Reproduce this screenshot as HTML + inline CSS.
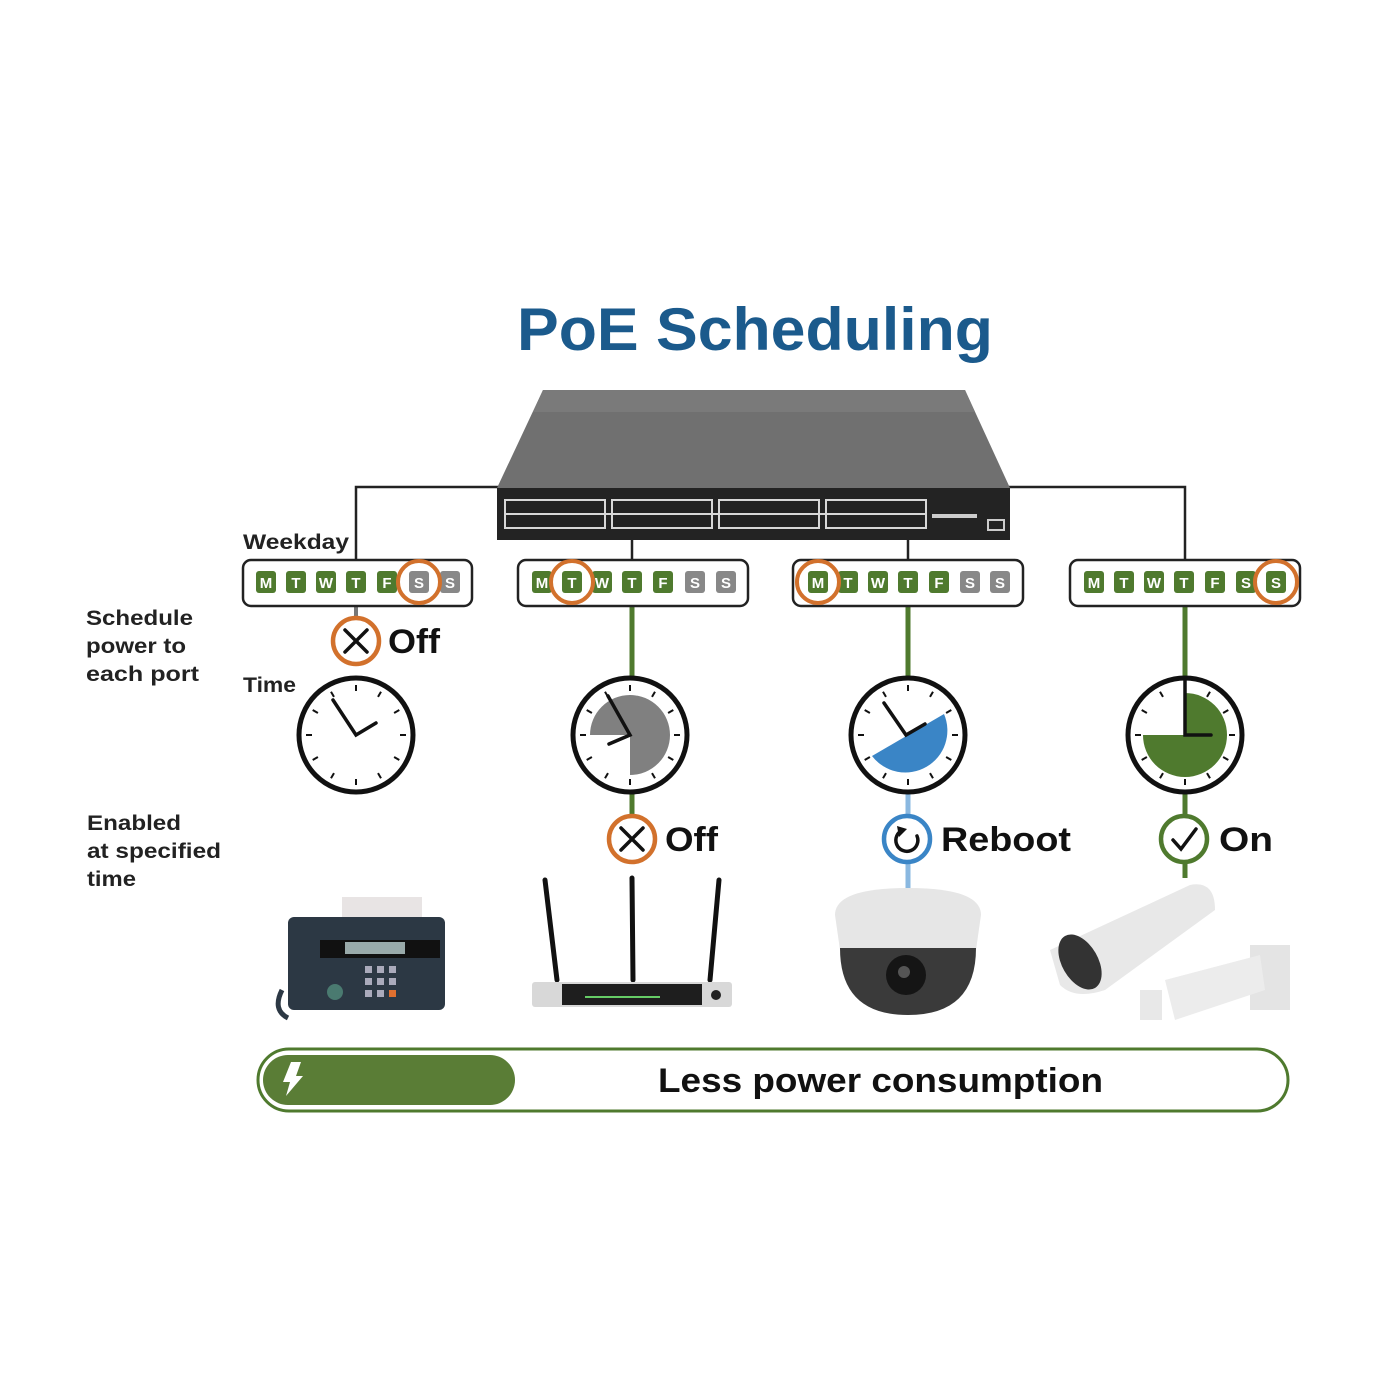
<!DOCTYPE html>
<html><head><meta charset="utf-8"><style>
html,body{margin:0;padding:0;background:#fff;}
svg{display:block;}
text{font-family:"Liberation Sans",sans-serif;}
</style></head><body>
<svg width="1400" height="1400" viewBox="0 0 1400 1400" xmlns="http://www.w3.org/2000/svg">
<defs>
  <g id="ticks" stroke="#111" stroke-width="2">
    <line x1="0" y1="-50" x2="0" y2="-44"/><line x1="0" y1="50" x2="0" y2="44"/>
    <line x1="-50" y1="0" x2="-44" y2="0"/><line x1="50" y1="0" x2="44" y2="0"/>
    <g transform="rotate(30)"><line x1="0" y1="-50" x2="0" y2="-44"/><line x1="0" y1="50" x2="0" y2="44"/><line x1="-50" y1="0" x2="-44" y2="0"/><line x1="50" y1="0" x2="44" y2="0"/></g>
    <g transform="rotate(60)"><line x1="0" y1="-50" x2="0" y2="-44"/><line x1="0" y1="50" x2="0" y2="44"/><line x1="-50" y1="0" x2="-44" y2="0"/><line x1="50" y1="0" x2="44" y2="0"/></g>
  </g>
</defs>

<text x="755" y="350" text-anchor="middle" font-size="60" font-weight="bold" fill="#1b5a8c" textLength="476" lengthAdjust="spacingAndGlyphs">PoE Scheduling</text>

<g stroke="#222" stroke-width="2.5" fill="none">
  <polyline points="356,560 356,487 500,487"/>
  <polyline points="1008,487 1185,487 1185,560"/>
  <line x1="632" y1="538" x2="632" y2="560"/>
  <line x1="908" y1="538" x2="908" y2="560"/>
</g>
<line x1="356" y1="606" x2="356" y2="620" stroke="#777" stroke-width="4"/>
<g stroke="#4f7a2e" stroke-width="5">
  <line x1="632" y1="606" x2="632" y2="680"/>
  <line x1="632" y1="792" x2="632" y2="818"/>
  <line x1="908" y1="606" x2="908" y2="680"/>
  <line x1="1185" y1="606" x2="1185" y2="680"/>
  <line x1="1185" y1="792" x2="1185" y2="818"/>
  <line x1="1185" y1="860" x2="1185" y2="878"/>
</g>
<g stroke="#8ab8e0" stroke-width="5">
  <line x1="908" y1="792" x2="908" y2="818"/>
  <line x1="908" y1="860" x2="908" y2="888"/>
</g>

<!-- switch -->
<polygon points="543,390 965,390 1010,488 497,488" fill="#707070"/>
<polygon points="543,390 965,390 975,412 533,412" fill="#7a7a7a"/>
<rect x="497" y="488" width="513" height="52" fill="#232323"/>
<g fill="none" stroke="#d8d8d8" stroke-width="2">
  <rect x="505" y="500" width="100" height="28"/>
  <rect x="612" y="500" width="100" height="28"/>
  <rect x="719" y="500" width="100" height="28"/>
  <rect x="826" y="500" width="100" height="28"/>
  <line x1="505" y1="514" x2="926" y2="514"/>
</g>
<rect x="932" y="514" width="45" height="4" fill="#ccc"/>
<rect x="988" y="520" width="16" height="10" fill="none" stroke="#ccc" stroke-width="2"/>

<g fill="#fff" stroke="#222" stroke-width="2.5">
  <rect x="243" y="560" width="229" height="46" rx="8"/>
  <rect x="518" y="560" width="230" height="46" rx="8"/>
  <rect x="793" y="560" width="230" height="46" rx="8"/>
  <rect x="1070" y="560" width="230" height="46" rx="8"/>
</g>
<g font-size="15" font-weight="bold" fill="#fff" text-anchor="middle">
<g transform="translate(266,582)">
 <rect x="-10" y="-11" width="20" height="22" rx="3" fill="#4f7a2e"/><text y="6">M</text>
 <g transform="translate(30,0)"><rect x="-10" y="-11" width="20" height="22" rx="3" fill="#4f7a2e"/><text y="6">T</text></g>
 <g transform="translate(60,0)"><rect x="-10" y="-11" width="20" height="22" rx="3" fill="#4f7a2e"/><text y="6">W</text></g>
 <g transform="translate(90,0)"><rect x="-10" y="-11" width="20" height="22" rx="3" fill="#4f7a2e"/><text y="6">T</text></g>
 <g transform="translate(121,0)"><rect x="-10" y="-11" width="20" height="22" rx="3" fill="#4f7a2e"/><text y="6">F</text></g>
 <g transform="translate(153,0)"><rect x="-10" y="-11" width="20" height="22" rx="3" fill="#888"/><text y="6">S</text></g>
 <g transform="translate(184,0)"><rect x="-10" y="-11" width="20" height="22" rx="3" fill="#888"/><text y="6">S</text></g>
</g>
<g transform="translate(542,582)">
 <rect x="-10" y="-11" width="20" height="22" rx="3" fill="#4f7a2e"/><text y="6">M</text>
 <g transform="translate(30,0)"><rect x="-10" y="-11" width="20" height="22" rx="3" fill="#4f7a2e"/><text y="6">T</text></g>
 <g transform="translate(60,0)"><rect x="-10" y="-11" width="20" height="22" rx="3" fill="#4f7a2e"/><text y="6">W</text></g>
 <g transform="translate(90,0)"><rect x="-10" y="-11" width="20" height="22" rx="3" fill="#4f7a2e"/><text y="6">T</text></g>
 <g transform="translate(121,0)"><rect x="-10" y="-11" width="20" height="22" rx="3" fill="#4f7a2e"/><text y="6">F</text></g>
 <g transform="translate(153,0)"><rect x="-10" y="-11" width="20" height="22" rx="3" fill="#888"/><text y="6">S</text></g>
 <g transform="translate(184,0)"><rect x="-10" y="-11" width="20" height="22" rx="3" fill="#888"/><text y="6">S</text></g>
</g>
<g transform="translate(818,582)">
 <rect x="-10" y="-11" width="20" height="22" rx="3" fill="#4f7a2e"/><text y="6">M</text>
 <g transform="translate(30,0)"><rect x="-10" y="-11" width="20" height="22" rx="3" fill="#4f7a2e"/><text y="6">T</text></g>
 <g transform="translate(60,0)"><rect x="-10" y="-11" width="20" height="22" rx="3" fill="#4f7a2e"/><text y="6">W</text></g>
 <g transform="translate(90,0)"><rect x="-10" y="-11" width="20" height="22" rx="3" fill="#4f7a2e"/><text y="6">T</text></g>
 <g transform="translate(121,0)"><rect x="-10" y="-11" width="20" height="22" rx="3" fill="#4f7a2e"/><text y="6">F</text></g>
 <g transform="translate(152,0)"><rect x="-10" y="-11" width="20" height="22" rx="3" fill="#888"/><text y="6">S</text></g>
 <g transform="translate(182,0)"><rect x="-10" y="-11" width="20" height="22" rx="3" fill="#888"/><text y="6">S</text></g>
</g>
<g transform="translate(1094,582)">
 <rect x="-10" y="-11" width="20" height="22" rx="3" fill="#4f7a2e"/><text y="6">M</text>
 <g transform="translate(30,0)"><rect x="-10" y="-11" width="20" height="22" rx="3" fill="#4f7a2e"/><text y="6">T</text></g>
 <g transform="translate(60,0)"><rect x="-10" y="-11" width="20" height="22" rx="3" fill="#4f7a2e"/><text y="6">W</text></g>
 <g transform="translate(90,0)"><rect x="-10" y="-11" width="20" height="22" rx="3" fill="#4f7a2e"/><text y="6">T</text></g>
 <g transform="translate(121,0)"><rect x="-10" y="-11" width="20" height="22" rx="3" fill="#4f7a2e"/><text y="6">F</text></g>
 <g transform="translate(152,0)"><rect x="-10" y="-11" width="20" height="22" rx="3" fill="#4f7a2e"/><text y="6">S</text></g>
 <g transform="translate(182,0)"><rect x="-10" y="-11" width="20" height="22" rx="3" fill="#4f7a2e"/><text y="6">S</text></g>
</g>
</g>
<g fill="none" stroke="#d2712c" stroke-width="4">
  <circle cx="419" cy="582" r="21"/>
  <circle cx="572" cy="582" r="21"/>
  <circle cx="818" cy="582" r="21"/>
  <circle cx="1276" cy="582" r="21"/>
</g>

<g font-size="21" font-weight="bold" fill="#222">
  <text x="243" y="549" textLength="106" lengthAdjust="spacingAndGlyphs">Weekday</text>
  <text x="243" y="692" textLength="53" lengthAdjust="spacingAndGlyphs">Time</text>
  <text x="86" y="625" textLength="107" lengthAdjust="spacingAndGlyphs">Schedule</text>
  <text x="86" y="653" textLength="100" lengthAdjust="spacingAndGlyphs">power to</text>
  <text x="86" y="681" textLength="113" lengthAdjust="spacingAndGlyphs">each port</text>
  <text x="87" y="830" textLength="94" lengthAdjust="spacingAndGlyphs">Enabled</text>
  <text x="87" y="858" textLength="134" lengthAdjust="spacingAndGlyphs">at specified</text>
  <text x="87" y="886" textLength="49" lengthAdjust="spacingAndGlyphs">time</text>
</g>

<g fill="#fff" stroke-width="4.5">
  <circle cx="356" cy="641" r="23" stroke="#d2712c"/>
  <circle cx="632" cy="839" r="23" stroke="#d2712c"/>
  <circle cx="907" cy="839" r="23" stroke="#3a85c6"/>
  <circle cx="1184" cy="839" r="23" stroke="#4f7a2e"/>
</g>
<g stroke="#111" stroke-width="3.5" fill="none" stroke-linecap="round">
  <path d="M345,630 L367,652 M367,630 L345,652"/>
  <path d="M621,828 L643,850 M643,828 L621,850"/>
  <path d="M1173,840 L1181,849 L1196,829"/>
  <path d="M917,836 A11,11 0 1 1 903,830"/>
</g>
<polygon points="897,826 907,829 899,837" fill="#111"/>
<g font-size="34" font-weight="bold" fill="#111">
  <text x="388" y="653" textLength="52" lengthAdjust="spacingAndGlyphs">Off</text>
  <text x="665" y="851" textLength="53" lengthAdjust="spacingAndGlyphs">Off</text>
  <text x="941" y="851" textLength="130" lengthAdjust="spacingAndGlyphs">Reboot</text>
  <text x="1219" y="851" textLength="54" lengthAdjust="spacingAndGlyphs">On</text>
</g>

<path d="M630,735 L590,735 A40,40 0 1 1 630,775 Z" fill="#808080"/>
<path d="M908,735 L944,714 A42,42 0 0 1 872,756 Z" fill="#3a85c6"/>
<path d="M1185,735 L1185,693 A42,42 0 1 1 1143,735 Z" fill="#4f7a2e"/>
<g fill="none" stroke="#111" stroke-width="5">
  <circle cx="356" cy="735" r="57"/>
  <circle cx="630" cy="735" r="57"/>
  <circle cx="908" cy="735" r="57"/>
  <circle cx="1185" cy="735" r="57"/>
</g>
<use href="#ticks" transform="translate(356,735)"/>
<use href="#ticks" transform="translate(630,735)"/>
<use href="#ticks" transform="translate(908,735)"/>
<use href="#ticks" transform="translate(1185,735)"/>
<g stroke="#111" stroke-width="3.5" stroke-linecap="round" fill="none">
  <polyline points="333,700 356,735 376,723"/>
  <polyline points="608,696 630,735 609,744"/>
  <polyline points="884,703 906,735 925,724"/>
  <polyline points="1185,680 1185,735 1211,735"/>
</g>

<!-- fax -->
<rect x="342" y="897" width="80" height="30" fill="#e8e4e4"/>
<rect x="288" y="917" width="157" height="93" rx="6" fill="#2c3844"/>
<rect x="320" y="940" width="120" height="18" fill="#111"/>
<rect x="345" y="942" width="60" height="12" fill="#9aa"/>
<g fill="#aab">
 <rect x="365" y="966" width="7" height="7"/><rect x="377" y="966" width="7" height="7"/><rect x="389" y="966" width="7" height="7"/>
 <rect x="365" y="978" width="7" height="7"/><rect x="377" y="978" width="7" height="7"/><rect x="389" y="978" width="7" height="7"/>
 <rect x="365" y="990" width="7" height="7"/><rect x="377" y="990" width="7" height="7"/>
</g>
<rect x="389" y="990" width="7" height="7" fill="#e07030"/>
<circle cx="335" cy="992" r="8" fill="#4a7a70"/>
<path d="M282,990 Q272,1010 288,1018" stroke="#2c3844" stroke-width="5" fill="none"/>

<!-- router -->
<g stroke="#111" stroke-width="5" stroke-linecap="round">
  <line x1="545" y1="880" x2="557" y2="980"/>
  <line x1="632" y1="878" x2="633" y2="980"/>
  <line x1="719" y1="880" x2="710" y2="980"/>
</g>
<rect x="532" y="982" width="200" height="25" rx="3" fill="#d8d8d8"/>
<rect x="562" y="984" width="140" height="21" fill="#1e1e1e"/>
<line x1="585" y1="997" x2="660" y2="997" stroke="#6c6" stroke-width="2"/>
<circle cx="716" cy="995" r="5" fill="#222"/>

<!-- dome camera -->
<path d="M835,915 Q835,888 908,888 Q981,888 981,915 L976,950 L840,950 Z" fill="#e6e6e6"/>
<path d="M840,948 Q840,1015 908,1015 Q976,1015 976,948 Z" fill="#3a3a3a"/>
<circle cx="906" cy="975" r="20" fill="#151515"/>
<circle cx="904" cy="972" r="6" fill="#555"/>

<!-- bullet camera -->
<rect x="1250" y="945" width="40" height="65" fill="#e4e4e4"/>
<polygon points="1165,980 1260,955 1265,990 1175,1020" fill="#ececec"/>
<rect x="1140" y="990" width="22" height="30" fill="#e8e8e8"/>
<path d="M1050,950 L1190,885 Q1215,880 1215,910 L1105,990 Q1075,1000 1060,985 Z" fill="#e8e8e8"/>
<ellipse cx="1080" cy="962" rx="18" ry="30" fill="#333" transform="rotate(-30 1080 962)"/>

<!-- power bar -->
<rect x="258" y="1049" width="1030" height="62" rx="31" fill="#fff" stroke="#4f7a2e" stroke-width="3"/>
<rect x="263" y="1055" width="252" height="50" rx="25" fill="#5a7d36"/>
<polygon points="291,1062 301,1062 296,1076 303,1076 286,1096 290,1082 283,1082" fill="#fff"/>
<text x="658" y="1092" font-size="34" font-weight="bold" fill="#111" textLength="445" lengthAdjust="spacingAndGlyphs">Less power consumption</text>
</svg>
</body></html>
